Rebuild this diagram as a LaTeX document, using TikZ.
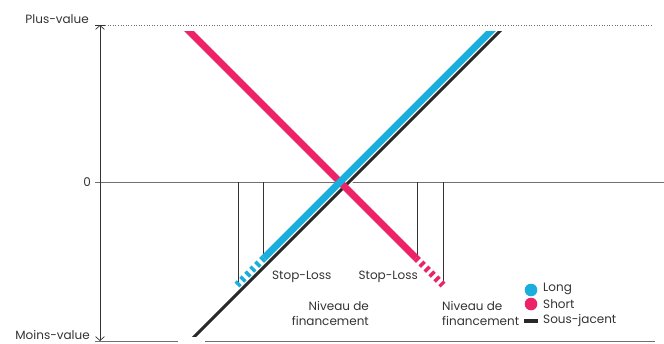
\documentclass[tikz,border=0pt]{standalone}
\usepackage{fontspec}
\setmainfont{Poppins}
\usetikzlibrary{arrows.meta}
\definecolor{longblue}{HTML}{1AAEDD}
\definecolor{shortpink}{HTML}{EC2467}
\definecolor{axisgray}{HTML}{707070}
\definecolor{txtgray}{HTML}{333333}

\begin{document}
\begin{tikzpicture}[x=1pt,y=-1pt,
    lbl/.style={text=txtgray,font=\fontsize{12}{15}\selectfont,inner sep=0pt},
    thinrule/.style={axisgray,line width=0.6pt},
    fat/.style={line width=7pt},
    fatdash/.style={line width=7pt,dash pattern=on 3.5pt off 3.5pt}]
    \useasboundingbox (0,0) rectangle (664,343);
    % axes
    \coordinate (top) at (100,25);
    \coordinate (bot) at (100,341);
    \draw[thinrule] (95,182) -- (664,182);
    \draw[thinrule] (95,341) -- (655,341);
    \draw[axisgray,line width=0.6pt,dotted] (105,25) -- (652,25);
    \draw[txtgray,line width=0.6pt] (95,25) -- (105,25);
    \draw[txtgray,line width=0.7pt,{Straight Barb[length=4pt,width=9pt]}-{Straight Barb[length=4pt,width=9pt]}] (top) -- (bot);
    \node[lbl,anchor=east] (plus) at (89,19) {Plus-value};
    \node[lbl,anchor=east] (zero) at (91,182) {0};
    \node[lbl,anchor=east] (moins) at (90,335) {Moins-value};
    % points of the three lines
    \coordinate (u1) at (188,343);
    \coordinate (u2) at (506,25);
    \coordinate (l1) at (497,25);
    \coordinate (l2) at (264,258);
    \coordinate (l3) at (237,285);
    \coordinate (s1) at (183,25);
    \coordinate (s2) at (416,258);
    \coordinate (s3) at (443,285);
    % stop-loss / financement levels
    \draw[thinrule,txtgray] (238,182) -- (238,284);
    \draw[thinrule,txtgray] (263,182) -- (263,257);
    \draw[thinrule,txtgray] (417,182) -- (417,260);
    \draw[thinrule,txtgray] (443,182) -- (443,283);
    % lines
    \fill[white] (178,338) rectangle (205,343);
    \begin{scope}
        \clip (0,31) rectangle (664,336);
        \draw[white,line width=6pt] (u1) -- (u2);
        \draw[txtgray!80!black,line width=3pt] (u1) -- (u2);
        \draw[shortpink,fat] (s1) -- (s2);
        \draw[longblue,fat] (l1) -- (l2);
    \end{scope}
    \draw[shortpink,fatdash] (s2) -- (s3);
    \draw[longblue,fatdash] (l2) -- (l3);
    % labels
    \node[lbl,anchor=west] (sl1) at (272,277) {Stop-Loss};
    \node[lbl,anchor=east] (sl2) at (418,277) {Stop-Loss};
    \node[lbl,anchor=east,align=right] (nf1) at (369,313) {Niveau de\\financement};
    \node[lbl,anchor=west,align=left] (nf2) at (442,313) {Niveau de\\financement};
    % legend
    \fill[longblue] (531,290) circle (6.3);
    \fill[shortpink] (531,304) circle (6.3);
    \fill[txtgray!80!black] (524,319) rectangle (538,323);
    \node[lbl,anchor=west] (lg1) at (543,289) {Long};
    \node[lbl,anchor=west] (lg2) at (543,304) {Short};
    \node[lbl,anchor=west] (lg3) at (543,320) {Sous-jacent};
\end{tikzpicture}
\end{document}
